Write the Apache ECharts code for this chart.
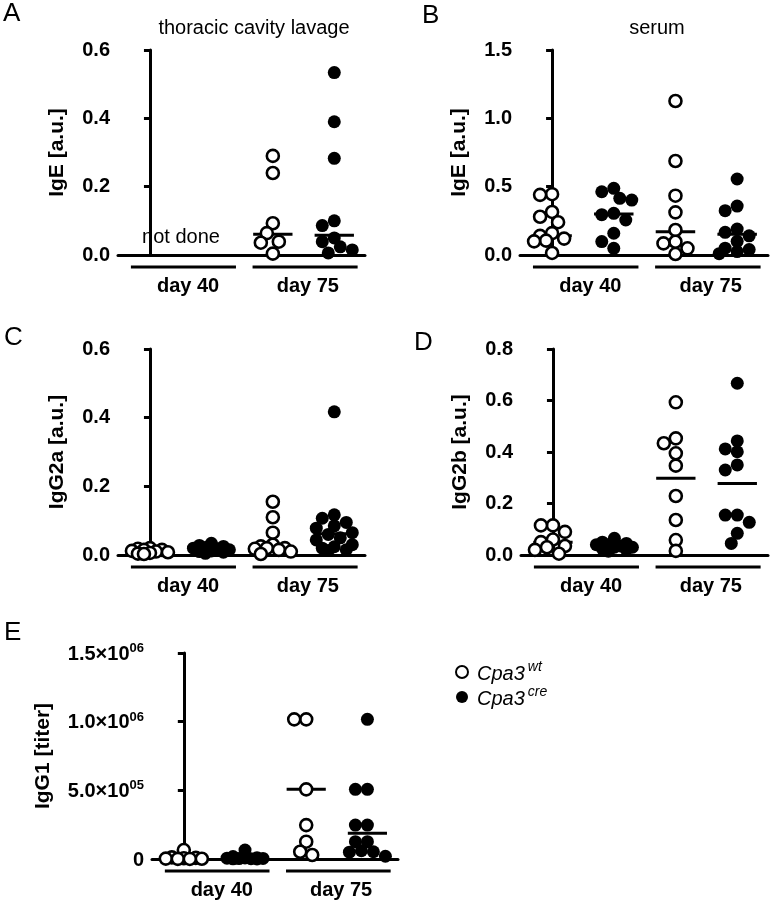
<!DOCTYPE html>
<html>
<head>
<meta charset="utf-8">
<script src="https://cdn.jsdelivr.net/npm/echarts@6/dist/echarts.min.js"></script>
<style>html,body{margin:0;padding:0;background:#fff}#c{width:770px;height:902px}</style>
</head>
<body>
<div id="c"></div>
<script>
// ---------- DATA ----------
const groups = ['Cpa3 wt day 40', 'Cpa3 cre day 40', 'Cpa3 wt day 75', 'Cpa3 cre day 75'];
const dayLabels = ['day 40', 'day 75'];
const panelLetters = ['A', 'B', 'C', 'D', 'E'];
const yTitles = ['IgE [a.u.]', 'IgE [a.u.]', 'IgG2a [a.u.]', 'IgG2b [a.u.]', 'IgG1 [titer]'];

// A: IgE, thoracic cavity lavage (day 40 not done)
const lavageIgE_wt40 = [];
const lavageIgE_cre40 = [];
const lavageIgE_wt75 = [0.29, 0.24, 0.093, 0.064, 0.039, 0.036, 0.004];
const lavageIgE_cre75 = [0.534, 0.39, 0.283, 0.1, 0.086, 0.05, 0.039, 0.024, 0.015, 0.006];
const lavageIgE_lines = [null, null, 0.061, 0.058];

// B: IgE, serum
const serumIgE_wt40 = [0.445, 0.44, 0.315, 0.28, 0.24, 0.16, 0.14, 0.12, 0.105, 0.1, 0.015];
const serumIgE_cre40 = [0.488, 0.463, 0.415, 0.402, 0.305, 0.295, 0.256, 0.159, 0.098, 0.049];
const serumIgE_wt75 = [1.127, 0.688, 0.434, 0.312, 0.183, 0.097, 0.085, 0.049, 0.007];
const serumIgE_cre75 = [0.556, 0.358, 0.324, 0.19, 0.166, 0.14, 0.1, 0.05, 0.04, 0.025, 0.01];
const serumIgE_lines = [0.141, 0.300, 0.171, 0.151];

// C: IgG2a
const igG2a_wt40 = [0.02, 0.018, 0.015, 0.015, 0.012, 0.01, 0.008, 0.006, 0.004, 0.003];
const igG2a_cre40 = [0.034, 0.028, 0.025, 0.022, 0.02, 0.018, 0.015, 0.012, 0.01, 0.008, 0.005];
const igG2a_wt75 = [0.155, 0.11, 0.065, 0.03, 0.025, 0.02, 0.02, 0.018, 0.015, 0.01, 0.003];
const igG2a_cre75 = [0.417, 0.117, 0.107, 0.095, 0.085, 0.078, 0.065, 0.06, 0.05, 0.044, 0.03, 0.024, 0.02, 0.015, 0.013];
const igG2a_lines = [0.008, 0.017, 0.021, 0.062];

// D: IgG2b
const igG2b_wt40 = [0.115, 0.115, 0.09, 0.06, 0.05, 0.035, 0.03, 0.02, 0.005];
const igG2b_cre40 = [0.065, 0.05, 0.045, 0.04, 0.04, 0.035, 0.03, 0.03, 0.025, 0.02, 0.015];
const igG2b_wt75 = [0.593, 0.453, 0.434, 0.395, 0.347, 0.229, 0.136, 0.058, 0.016];
const igG2b_cre75 = [0.667, 0.443, 0.412, 0.401, 0.35, 0.33, 0.155, 0.155, 0.127, 0.084, 0.045];
const igG2b_lines = [0.05, 0.038, 0.298, 0.278];

// E: IgG1 titer
const igG1_wt40 = [65000, 12000, 8000, 5000, 3000, 2000, 1000, 500];
const igG1_cre40 = [65000, 18000, 10000, 8000, 6000, 4000, 3000, 2000, 1000, 500];
const igG1_wt75 = [1017000, 1017000, 507000, 247000, 126000, 53000, 29000];
const igG1_cre75 = [1017000, 507000, 507000, 247000, 247000, 126000, 126000, 60000, 53000, 50000, 20000];
const igG1_lines = [4000, 3000, 507000, 187000];

// y axis tick settings
const yMax = [0.6, 1.5, 0.6, 0.8, 1500000];
const yStep = [0.2, 0.5, 0.2, 0.2, 500000];

// ---------- LAYOUT ----------
const FONT = "'Liberation Sans', Arial, Helvetica, sans-serif";
const grids = [
  {left: 118, top: 50, width: 247, height: 205},
  {left: 520, top: 50, width: 248, height: 205},
  {left: 118, top: 349, width: 247, height: 206},
  {left: 521, top: 349, width: 247, height: 206},
  {left: 152, top: 653, width: 246, height: 206}
];
const X_MIN = -0.52, X_MAX = 3.5;

const panels = [
  {wt: [lavageIgE_wt40, lavageIgE_wt75], cre: [lavageIgE_cre40, lavageIgE_cre75], lines: lavageIgE_lines},
  {wt: [serumIgE_wt40, serumIgE_wt75], cre: [serumIgE_cre40, serumIgE_cre75], lines: serumIgE_lines},
  {wt: [igG2a_wt40, igG2a_wt75], cre: [igG2a_cre40, igG2a_cre75], lines: igG2a_lines},
  {wt: [igG2b_wt40, igG2b_wt75], cre: [igG2b_cre40, igG2b_cre75], lines: igG2b_lines},
  {wt: [igG1_wt40, igG1_wt75], cre: [igG1_cre40, igG1_cre75], lines: igG1_lines}
];

// beeswarm-like horizontal spreading of points (in pixels -> axis units)
function swarm(values, groupIdx, gi) {
  const g = grids[gi];
  const ppx = g.width / (X_MAX - X_MIN);
  const ppy = g.height / yMax[gi];
  const D = 10.5, STEP = 6, MAXK = 3;
  const placed = [];
  const out = [];
  const order = values.map((v, i) => i).sort((a, b) => values[b] - values[a]);
  order.forEach(i => {
    const py = values[i] * ppy;
    const cands = [0];
    for (let k = 1; k <= MAXK; k++) { cands.push(-k * STEP, k * STEP); }
    let best = null, bestScore = -1;
    for (const c of cands) {
      let md = Infinity;
      for (const p of placed) md = Math.min(md, Math.hypot(p[0] - c, p[1] - py));
      if (md >= D) { best = c; bestScore = Infinity; break; }
      if (md > bestScore) { bestScore = md; best = c; }
    }
    placed.push([best, py]);
    out.push([groupIdx + best / ppx, values[i]]);
  });
  return out;
}

function sciLabel(v) {
  if (v === 0) return '{n|0}';
  const e = Math.floor(Math.log10(v) + 1e-9);
  const m = v / Math.pow(10, e);
  return '{n|' + m.toFixed(1) + '×10}{s|' + String(e).padStart(2, '0') + '}';
}

const xAxes = [], yAxes = [], series = [];
grids.forEach((g, i) => {
  xAxes.push({
    type: 'value', gridIndex: i, min: X_MIN, max: X_MAX,
    axisLine: {show: true, onZero: false, lineStyle: {color: '#000', width: 3}},
    axisTick: {show: false}, axisLabel: {show: false}, splitLine: {show: false}
  });
  yAxes.push({
    type: 'value', gridIndex: i, min: 0, max: yMax[i], interval: yStep[i],
    name: yTitles[i], nameLocation: 'middle', nameRotate: 90,
    nameGap: i === 4 ? 98 : 50,
    nameTextStyle: {fontFamily: FONT, fontWeight: 'bold', fontSize: 21, color: '#000'},
    axisLine: {show: true, lineStyle: {color: '#000', width: 3}},
    axisTick: {show: true, length: 6, lineStyle: {color: '#000', width: 3}},
    splitLine: {show: false},
    axisLabel: i === 4 ? {
      margin: 8, formatter: sciLabel,
      rich: {
        n: {fontFamily: FONT, fontWeight: 'bold', fontSize: 20, color: '#000', lineHeight: 22, verticalAlign: 'bottom'},
        s: {fontFamily: FONT, fontWeight: 'bold', fontSize: 13, color: '#000', lineHeight: 22, verticalAlign: 'top', padding: [0, 0, 10, 0]}
      }
    } : {
      margin: 8, fontFamily: FONT, fontWeight: 'bold', fontSize: 20, color: '#000',
      formatter: v => v.toFixed(1)
    }
  });

  const p = panels[i];
  // median/mean lines
  series.push({
    type: 'custom', xAxisIndex: i, yAxisIndex: i, z: 2, silent: true,
    data: p.lines.map((v, k) => v === null ? null : [k, v]).filter(d => d),
    renderItem: (params, api) => {
      const k = api.value(0), v = api.value(1);
      const a = api.coord([k - 0.32, v]), b = api.coord([k + 0.32, v]);
      return {type: 'line', shape: {x1: a[0], y1: a[1], x2: b[0], y2: b[1]}, style: {stroke: '#000', lineWidth: 3}};
    }
  });
  // day group bars and labels below the axis
  const spans = [[-0.31, 1.40, 0.62], [1.67, 3.38, 2.57]];
  series.push({
    type: 'custom', xAxisIndex: i, yAxisIndex: i, z: 2, silent: true, clip: false,
    data: dayLabels.map((d, k) => [k]),
    renderItem: (params, api) => {
      const k = api.value(0);
      const s = spans[k];
      const a = api.coord([s[0], 0]), b = api.coord([s[1], 0]), c = api.coord([s[2], 0]);
      return {type: 'group', children: [
        {type: 'line', shape: {x1: a[0], y1: a[1] + 12, x2: b[0], y2: b[1] + 12}, style: {stroke: '#000', lineWidth: 3}},
        {type: 'text', x: c[0], y: c[1] + 31, style: {text: dayLabels[k], fontFamily: FONT, fontWeight: 'bold', fontSize: 20, fill: '#000', align: 'center', verticalAlign: 'middle'}}
      ]};
    }
  });
  // wild-type (open) points
  series.push({
    name: 'wt', type: 'scatter', xAxisIndex: i, yAxisIndex: i, z: 5,
    symbol: 'circle', symbolSize: 12,
    itemStyle: {color: '#fff', borderColor: '#000', borderWidth: 2.6, opacity: 1},
    data: swarm(p.wt[0], 0, i).concat(swarm(p.wt[1], 2, i))
  });
  // cre (filled) points
  series.push({
    name: 'cre', type: 'scatter', xAxisIndex: i, yAxisIndex: i, z: 4,
    symbol: 'circle', symbolSize: 13,
    itemStyle: {color: '#000', opacity: 1},
    data: swarm(p.cre[0], 1, i).concat(swarm(p.cre[1], 3, i))
  });
});

const letterPos = [[3, 1], [422, 3], [4, 325], [414, 330], [4, 620]];
const graphic = panelLetters.map((t, i) => ({
  type: 'text', left: letterPos[i][0], top: letterPos[i][1],
  style: {text: t, fontFamily: FONT, fontSize: 26, fill: '#000'}
}));
graphic.push(
  {type: 'text', x: 254, y: 28, style: {text: 'thoracic cavity lavage', fontFamily: FONT, fontSize: 20, fill: '#000', align: 'center', verticalAlign: 'middle'}},
  {type: 'text', x: 657, y: 28, style: {text: 'serum', fontFamily: FONT, fontSize: 20, fill: '#000', align: 'center', verticalAlign: 'middle'}},
  {type: 'text', x: 181, y: 237, style: {text: 'not done', fontFamily: FONT, fontSize: 20, fill: '#000', align: 'center', verticalAlign: 'middle'}}
);

const option = {
  backgroundColor: '#fff',
  animation: false,
  grid: grids.map(g => Object.assign({containLabel: false}, g)),
  xAxis: xAxes,
  yAxis: yAxes,
  legend: {
    orient: 'vertical', left: 450, top: 655, itemGap: 1,
    itemWidth: 12, itemHeight: 12, icon: 'circle',
    data: ['wt', 'cre'],
    formatter: n => '{i|Cpa3}{s|' + n + '}',
    textStyle: {
      rich: {
        i: {fontFamily: FONT, fontStyle: 'italic', fontSize: 20, color: '#000', lineHeight: 24, verticalAlign: 'bottom', padding: [0, 0, 0, 4]},
        s: {fontFamily: FONT, fontStyle: 'italic', fontSize: 14, color: '#000', lineHeight: 24, verticalAlign: 'top', padding: [0, 0, 9, 3]}
      }
    }
  },
  graphic: graphic,
  series: series
};

const chart = echarts.init(document.getElementById('c'), null, {renderer: 'canvas'});
chart.setOption(option);
</script>
</body>
</html>
